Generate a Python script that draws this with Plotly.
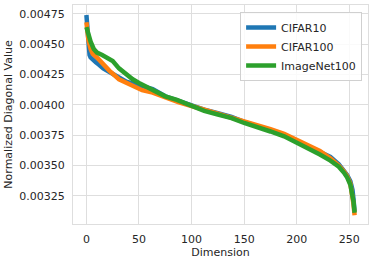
import plotly.graph_objects as go

# Data
cifar10_dim = [0, 1, 2, 3, 4, 6, 9, 12, 16, 22, 30, 38, 46, 53, 63, 75, 88, 100, 112, 125,
               138, 150, 162, 175, 188, 200, 212, 222, 232, 240, 245, 248, 251, 253, 254, 255]
cifar10_val = [0.00474, 0.00460, 0.00447, 0.00441, 0.00439, 0.00437, 0.00435, 0.00433, 0.00430,
               0.00427, 0.00423, 0.00419, 0.00417, 0.00415, 0.00413, 0.00407, 0.00403, 0.00399,
               0.00396, 0.00393, 0.00390, 0.00386, 0.00383, 0.00379, 0.00375, 0.00370, 0.00365,
               0.00361, 0.00357, 0.00351, 0.00346, 0.00342, 0.00337, 0.00330, 0.00322, 0.00312]

cifar100_dim = [0, 1, 2, 4, 6, 10, 15, 22, 31, 38, 44, 53, 63, 75, 88, 100, 112, 125,
                138, 150, 162, 175, 188, 200, 212, 222, 232, 240, 245, 248, 251, 253, 254, 255]
cifar100_val = [0.00468, 0.00460, 0.00453, 0.00446, 0.00442, 0.00439, 0.00434, 0.00428, 0.00421,
                0.00418, 0.00415, 0.00412, 0.00410, 0.00406, 0.00402, 0.00399, 0.00396, 0.00393,
                0.00390, 0.00387, 0.00384, 0.00380, 0.00376, 0.00371, 0.00367, 0.00362, 0.00356,
                0.00350, 0.00345, 0.00341, 0.00335, 0.00326, 0.00318, 0.00309]

imagenet100_dim = [0, 2, 4, 7, 10, 15, 20, 25, 31, 38, 44, 50, 57, 65, 75, 86, 100, 112, 125,
                   138, 150, 162, 175, 188, 200, 212, 222, 232, 240, 245, 248, 251, 253, 254, 255]
imagenet100_val = [0.00464, 0.00457, 0.00452, 0.00446, 0.00443, 0.00441, 0.00439, 0.00436, 0.00430,
                   0.00425, 0.00421, 0.00418, 0.00415, 0.00411, 0.00407, 0.00404, 0.00399, 0.00395,
                   0.00392, 0.00389, 0.00385, 0.00382, 0.00378, 0.00374, 0.00369, 0.00364, 0.00359,
                   0.00354, 0.00349, 0.00344, 0.00340, 0.00334, 0.00327, 0.00320, 0.00311]

x_ticks = [0, 50, 100, 150, 200, 250]
y_ticks = [0.00325, 0.00350, 0.00375, 0.00400, 0.00425, 0.00450, 0.00475]
y_tick_labels = ["0.00325", "0.00350", "0.00375", "0.00400", "0.00425", "0.00450", "0.00475"]

series = [
    ("CIFAR10", cifar10_dim, cifar10_val, "#1f77b4"),
    ("CIFAR100", cifar100_dim, cifar100_val, "#ff7f0e"),
    ("ImageNet100", imagenet100_dim, imagenet100_val, "#2ca02c"),
]

fig = go.Figure()
for name, xs, ys, color in series:
    fig.add_trace(go.Scatter(x=xs, y=ys, mode="lines", name=name,
                             line=dict(color=color, width=4.5)))

font_family = "DejaVu Sans"
grid = "#dedede"
fs = 11
fig.update_layout(
    width=374, height=262,
    margin=dict(l=73, r=6, t=5, b=38, autoexpand=False),
    paper_bgcolor="white", plot_bgcolor="white",
    font=dict(family=font_family, size=fs, color="#262626"),
    showlegend=True,
    legend=dict(x=0.98, y=0.968, xanchor="right", yanchor="top",
                bgcolor="rgba(255,255,255,0.85)", bordercolor="#d0d0d0", borderwidth=1,
                font=dict(size=fs), tracegroupgap=0, itemwidth=30),
)
fig.update_xaxes(
    range=[-12.75, 267.75], tickvals=x_ticks, showgrid=True, gridcolor=grid, gridwidth=1,
    zeroline=False, showline=True, linecolor=grid, linewidth=1, mirror=True,
    ticks="", ticklabelstandoff=5, automargin=False,
    title=dict(text="Dimension", standoff=2, font=dict(size=fs)),
)
fig.update_yaxes(
    range=[0.003018, 0.004822], tickvals=y_ticks, ticktext=y_tick_labels,
    showgrid=True, gridcolor=grid, gridwidth=1,
    zeroline=False, showline=True, linecolor=grid, linewidth=1, mirror=True,
    ticks="", ticklabelstandoff=5, automargin=False,
    title=dict(text="Normalized Diagonal Value", standoff=4, font=dict(size=fs)),
)

fig.write_html("out.html", config={"displayModeBar": False},
               post_script="document.body.style.margin='0';document.body.style.padding='0';")
